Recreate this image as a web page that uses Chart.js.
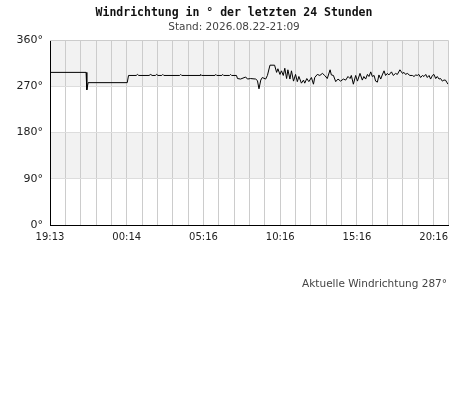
<!DOCTYPE html>
<html lang="de">
<head>
<meta charset="utf-8">
<title>Windrichtung</title>
<script src="https://cdn.jsdelivr.net/npm/chart.js@4"></script>
<style>
  html, body { margin: 0; padding: 0; background: #fff; }
  #wrap { position: relative; width: 468px; height: 415px; }
  #aktuell {
    position: absolute; right: 21px; top: 277px;
    font: 10.5px 'DejaVu Sans', sans-serif; color: #444; white-space: nowrap;
  }
</style>
</head>
<body>
<div id="wrap">
  <canvas id="windkaavio"></canvas>
  <div id="aktuell">Aktuelle Windrichtung 287°</div>
</div>
<script>
// Windrichtung der letzten 24 Stunden (Start 19:13, Ende 21:09 am Folgetag)

const startZeit = '19:13';
const endZeit = '21:09';

const zeiten = [
  '19:13','21:34','21:37','21:42','00:15','00:20','00:50','00:55','01:00','01:40',
  '01:47','01:52','02:05','02:10','02:15','02:30','02:34','02:38','03:40','03:44',
  '03:48','05:00','05:02','05:06','05:58','06:01','06:05','06:25','06:28','06:32',
  '06:55','06:59','07:03','07:22','07:26','07:38','07:58','08:05','08:17','08:37',
  '08:44','08:50','08:57','09:03','09:16','09:23','09:33','09:51','09:59','10:04',
  '10:12','10:18','10:25','10:31','10:38','10:43','10:51','10:57','11:05','11:13',
  '11:20','11:26','11:36','11:44','11:49','11:57','12:05','12:15','12:23','12:28',
  '12:38','12:48','12:58','13:07','13:17','13:28','13:33','13:41','13:50','13:59',
  '14:09','14:20','14:29','14:38','14:46','14:51','14:59','15:08','15:15','15:25',
  '15:34','15:40','15:47','15:54','16:00','16:07','16:13','16:20','16:26','16:33',
  '16:39','16:46','16:52','16:59','17:05','17:12','17:18','17:28','17:35','17:44',
  '17:51','18:01','18:11','18:17','18:23','18:30','18:40','18:50','18:56','19:03',
  '19:09','19:15','19:22','19:29','19:35','19:42','19:48','19:55','20:01','20:08',
  '20:14','20:21','20:27','20:34','20:40','20:47','20:53','20:59','21:04','21:09'
];

const richtung = [
  297,297,263,277,277,291,291,293,291,291,
  293,291,291,293,291,291,293,291,291,293,
  291,291,293,291,291,293,291,291,293,291,
  291,293,291,291,285,284,288,284,285,284,
  281,265,282,287,284,291,311,311,297,304,
  293,300,291,305,285,302,284,300,280,293,
  279,289,276,282,276,285,279,287,274,287,
  293,291,295,291,285,302,292,291,279,284,
  280,284,282,289,285,291,274,291,280,295,
  282,289,284,293,289,298,289,291,280,278,
  292,284,292,300,291,295,292,298,291,295,
  293,302,295,297,293,295,291,291,289,292,
  291,293,287,291,289,293,287,291,284,291,
  293,285,289,284,285,280,282,282,278,274
];

// Beschriftung jeder fünften Stundenlinie
const zeitLabels = ['19:13','00:14','05:16','10:16','15:16','20:16'];
const gradLabels = [0, 90, 180, 270, 360];
// graue Bänder
const baender = [[270, 360], [90, 180]];

function minuten(s) {
  const [h, m] = s.split(':').map(Number);
  return h * 60 + m;
}

// Uhrzeit -> Minuten seit Start, Tageswechsel wenn die Zeit zurückspringt
const startMin = minuten(startZeit);
let tag = 0, vorher = startMin;
const punkte = zeiten.map((z, i) => {
  const m = minuten(z);
  if (m < vorher) tag++;
  vorher = m;
  return { x: m + tag * 1440 - startMin, y: richtung[i] };
});
const endeX = minuten(endZeit) + 1440 - startMin;

const hintergrund = {
  id: 'hintergrund',
  beforeDraw(chart) {
    const { ctx, chartArea: a, scales: { y } } = chart;
    ctx.save();
    ctx.fillStyle = '#f2f2f2';
    baender.forEach(([von, bis]) => {
      const y1 = y.getPixelForValue(bis), y2 = y.getPixelForValue(von);
      ctx.fillRect(a.left, y1, a.right - a.left, y2 - y1);
    });
    ctx.restore();
  },
  afterDraw(chart) {
    const { ctx, chartArea: a } = chart;
    ctx.save();
    ctx.strokeStyle = '#cccccc';
    ctx.lineWidth = 1;
    ctx.beginPath();
    ctx.moveTo(a.left, Math.round(a.top) + 0.5);
    ctx.lineTo(Math.round(a.right) + 0.5, Math.round(a.top) + 0.5);
    ctx.lineTo(Math.round(a.right) + 0.5, a.bottom);
    ctx.stroke();
    ctx.restore();
  }
};

new Chart(document.getElementById('windkaavio'), {
  type: 'line',
  data: {
    datasets: [{
      data: punkte,
      borderColor: '#000',
      borderWidth: 1,
      pointRadius: 0,
      tension: 0,
      fill: false
    }]
  },
  options: {
    responsive: true,
    maintainAspectRatio: false,
    animation: false,
    events: [],
    layout: { padding: { left: 0, right: 0, top: 0, bottom: 170 } },
    plugins: {
      legend: { display: false },
      tooltip: { enabled: false },
      title: {
        display: true,
        text: 'Windrichtung in ° der letzten 24 Stunden',
        color: '#111',
        font: { family: 'DejaVu Sans Mono', size: 11.5, weight: 'bold', lineHeight: 1.2 },
        padding: { top: 6, bottom: 0 }
      },
      subtitle: {
        display: true,
        text: 'Stand: 2026.08.22-21:09',
        color: '#444',
        font: { family: 'DejaVu Sans', size: 10.5, lineHeight: 1.2 },
        padding: { top: 1, bottom: 6.6 }
      }
    },
    scales: {
      x: {
        type: 'linear',
        min: 0,
        max: endeX,
        afterFit: (s) => { s.height = 20; },
        afterBuildTicks: (s) => {
          s.ticks = [];
          for (let v = 0; v <= endeX; v += 60) s.ticks.push({ value: v });
        },
        ticks: {
          autoSkip: false,
          maxRotation: 0,
          padding: 6,
          color: '#222',
          font: { family: 'DejaVu Sans', size: 10 },
          callback: (v, i) => (i % 5 === 0 ? (zeitLabels[i / 5] || '') : '')
        },
        grid: { color: '#cccccc', lineWidth: 1, drawTicks: false },
        border: { color: '#000', width: 1 }
      },
      y: {
        min: 0,
        max: 360,
        afterFit: (s) => { s.width = 50; },
        afterBuildTicks: (s) => { s.ticks = gradLabels.map(v => ({ value: v })); },
        ticks: {
          padding: 7,
          color: '#222',
          font: { family: 'DejaVu Sans', size: 11 },
          callback: (v) => v + '°'
        },
        grid: { color: '#dddddd', lineWidth: 1, drawTicks: false },
        border: { color: '#000', width: 1 }
      },
      // leere rechte Achse, nur als Rand
      rechts: {
        position: 'right',
        min: 0,
        max: 360,
        afterFit: (s) => { s.width = 20; },
        ticks: { display: false },
        grid: { display: false, drawTicks: false },
        border: { display: false }
      }
    }
  },
  plugins: [hintergrund]
});
</script>
</body>
</html>
